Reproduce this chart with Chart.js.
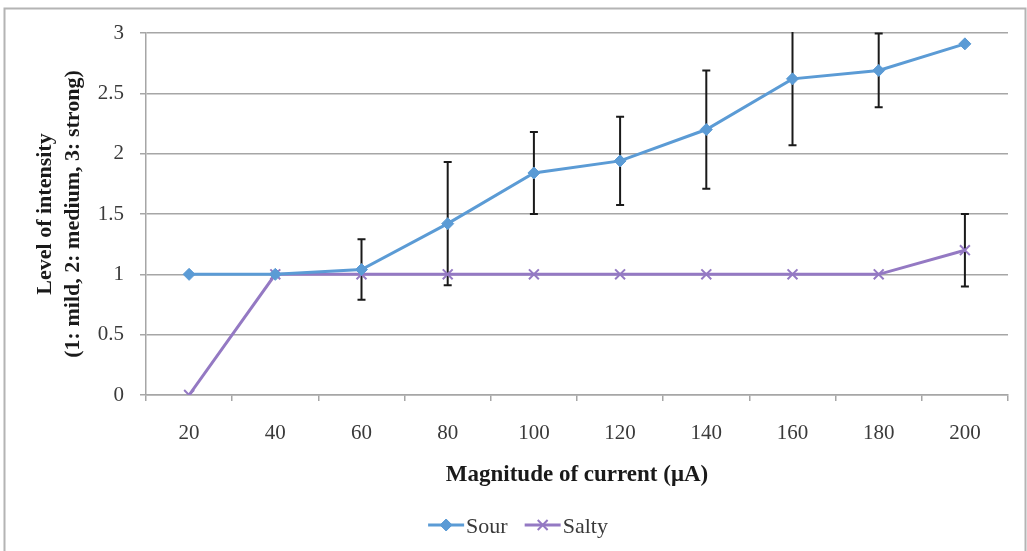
<!DOCTYPE html>
<html>
<head>
<meta charset="utf-8">
<script src="https://cdn.jsdelivr.net/npm/chart.js@4/dist/chart.umd.min.js"></script>
<style>
  html, body { margin: 0; padding: 0; background: #fff; }
  #wrap { position: relative; width: 1027px; height: 551px; }
</style>
</head>
<body>
<div id="wrap"><canvas id="c" width="1027" height="551"></canvas></div>
<script>
// data
const currents = ['20', '40', '60', '80', '100', '120', '140', '160', '180', '200'];
const sour = [1, 1, 1.04, 1.42, 1.84, 1.94, 2.2, 2.62, 2.69, 2.91];
const sourErr = [0, 0, 0.25, 0.51, 0.34, 0.365, 0.49, 0.55, 0.305, 0];
const salty = [0, 1, 1, 1, 1, 1, 1, 1, 1, 1.2];
const saltyErr = [0, 0, 0, 0, 0, 0, 0, 0, 0, 0.3];

const blue = '#5b9bd5';
const purple = '#9479c3';
const serif = "'Liberation Serif', 'DejaVu Serif', serif";
const textCol = '#3a3a3a';

// frame round the whole chart
const framePlugin = {
  id: 'frame',
  beforeDraw(chart) {
    const ctx = chart.ctx;
    ctx.save();
    ctx.fillStyle = '#fff';
    ctx.fillRect(0, 0, chart.width, chart.height);
    ctx.strokeStyle = '#b4b4b4';
    ctx.lineWidth = 2;
    ctx.strokeRect(4.5, 8.5, 1021, 560);
    ctx.restore();
  }
};

// error bars behind the lines
const errorBars = {
  id: 'errorBars',
  beforeDatasetsDraw(chart) {
    const ctx = chart.ctx;
    const x = chart.scales.x, y = chart.scales.y;
    const area = chart.chartArea;
    ctx.save();
    ctx.beginPath();
    ctx.rect(area.left, area.top - 1, area.right - area.left, area.bottom - area.top + 2);
    ctx.clip();
    ctx.strokeStyle = '#1a1a1a';
    ctx.lineWidth = 2;
    [[sour, sourErr], [salty, saltyErr]].forEach(([vals, errs]) => {
      vals.forEach((v, i) => {
        if (!errs[i]) return;
        const px = x.getPixelForValue(i);
        const top = y.getPixelForValue(v + errs[i]);
        const bot = y.getPixelForValue(v - errs[i]);
        ctx.beginPath();
        ctx.moveTo(px, top); ctx.lineTo(px, bot);
        ctx.moveTo(px - 4, top); ctx.lineTo(px + 4, top);
        ctx.moveTo(px - 4, bot); ctx.lineTo(px + 4, bot);
        ctx.stroke();
      });
    });
    ctx.restore();
  }
};

// legend with line + marker like the original
const lineLegend = {
  id: 'lineLegend',
  afterDraw(chart) {
    const ctx = chart.ctx;
    const cy = 525;
    const lineLen = 36, gapText = 2, gapItem = 17;
    ctx.save();
    ctx.font = '22px ' + serif;
    const items = chart.data.datasets.map(ds => ({ ds, w: ctx.measureText(ds.label).width }));
    let total = 0;
    items.forEach((it, i) => { total += lineLen + gapText + it.w + (i ? gapItem : 0); });
    let xPos = 518 - total / 2;
    items.forEach(it => {
      const ds = it.ds;
      ctx.strokeStyle = ds.borderColor;
      ctx.fillStyle = ds.borderColor;
      ctx.lineWidth = 3;
      ctx.beginPath();
      ctx.moveTo(xPos, cy); ctx.lineTo(xPos + lineLen, cy);
      ctx.stroke();
      ctx.lineWidth = ds.pointBorderWidth;
      Chart.helpers.drawPoint(ctx, {
        pointStyle: ds.pointStyle,
        radius: ds.pointRadius,
        borderWidth: ds.pointBorderWidth
      }, xPos + lineLen / 2, cy);
      ctx.fillStyle = textCol;
      ctx.textBaseline = 'middle';
      ctx.textAlign = 'left';
      ctx.fillText(ds.label, xPos + lineLen + gapText, cy + 2);
      xPos += lineLen + gapText + it.w + gapItem;
    });
    ctx.restore();
  }
};

new Chart(document.getElementById('c'), {
  type: 'line',
  data: {
    labels: currents,
    datasets: [
      {
        label: 'Sour',
        data: sour,
        borderColor: blue,
        backgroundColor: blue,
        borderWidth: 3,
        pointStyle: 'rectRot',
        pointRadius: 6,
        pointBorderWidth: 1,
        pointBackgroundColor: blue,
        pointBorderColor: blue,
        tension: 0
      },
      {
        label: 'Salty',
        data: salty,
        borderColor: purple,
        backgroundColor: purple,
        borderWidth: 3,
        pointStyle: 'crossRot',
        pointRadius: 7,
        pointBorderWidth: 2,
        pointBorderColor: purple,
        tension: 0
      }
    ]
  },
  options: {
    responsive: false,
    animation: false,
    layout: { padding: { top: 33, right: 19, left: 0, bottom: 56 } },
    plugins: {
      legend: { display: false },
      tooltip: { enabled: false }
    },
    scales: {
      x: {
        offset: true,
        grid: {
          offset: true,
          drawOnChartArea: false,
          drawTicks: true,
          tickLength: 6,
          color: '#a6a6a6',
          lineWidth: 1.5
        },
        border: { color: '#a6a6a6', width: 1.5 },
        ticks: { font: { family: serif, size: 21 }, color: textCol, padding: 20, maxRotation: 0 },
        title: {
          display: true,
          text: 'Magnitude of current (μA)',
          font: { family: serif, size: 23, weight: 'bold', lineHeight: '20px' },
          color: '#1a1a1a',
          padding: { top: 0, bottom: 10 }
        },
        afterFit(scale) { scale.height = 100; }
      },
      y: {
        min: 0,
        max: 3,
        ticks: {
          stepSize: 0.5,
          font: { family: serif, size: 21 },
          color: textCol,
          padding: 16,
          callback: v => String(v)
        },
        grid: { color: '#a6a6a6', lineWidth: 1.5, tickLength: 6 },
        border: { color: '#a6a6a6', width: 1.5 },
        title: {
          display: true,
          text: ['Level of intensity', '(1: mild, 2: medium, 3: strong)'],
          font: { family: serif, size: 22, weight: 'bold', lineHeight: '28px' },
          color: '#1a1a1a',
          padding: { top: 31, bottom: 0 }
        },
        afterFit(scale) { scale.width = 146; }
      }
    }
  },
  plugins: [framePlugin, errorBars, lineLegend]
});
</script>
</body>
</html>
